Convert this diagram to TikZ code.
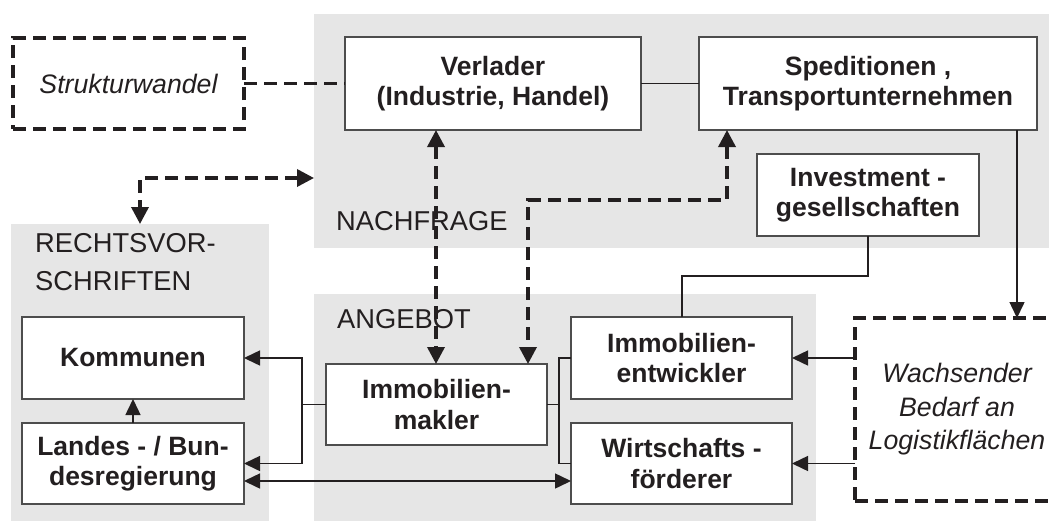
\documentclass[tikz,border=0pt]{standalone}
\usepackage{fontspec}
\setmainfont{Liberation Sans}
\usetikzlibrary{arrows.meta}
\definecolor{panelgray}{HTML}{E6E6E6}
\definecolor{ink}{HTML}{231F20}
\definecolor{rim}{HTML}{4D4D4D}

\begin{document}
\begin{tikzpicture}[x=1pt,y=-1pt,
  panel/.style={fill=panelgray, draw=none, inner sep=0pt, outer sep=0pt},
  entity/.style={draw=rim, line width=1.3pt, fill=white, text=ink, align=center,
    inner sep=0pt, outer sep=0pt, font=\bfseries\fontsize{26.5}{30.5}\selectfont},
  factor/.style={draw=ink, line width=3.5pt, dash pattern=on 13pt off 7pt,
    align=center, inner sep=0pt, outer sep=0pt, text=ink,
    font=\itshape\fontsize{26.7}{33.5}\selectfont},
  section/.style={text=ink, inner sep=0pt, align=left,
    font=\fontsize{27.3}{38}\selectfont},
  link/.style={draw=ink, line width=1.5pt},
  flowtip/.tip={Triangle[length=16pt,width=15pt]},
  flow/.style={link, -flowtip},
  twoflow/.style={link, flowtip-flowtip},
  dlink/.style={draw=ink, line width=3.5pt, dash pattern=on 13pt off 7pt},
  dtip/.tip={Triangle[length=17pt,width=17pt]},
  dtwoflow/.style={dlink, dtip-dtip}
]
\useasboundingbox (0,0) rectangle (1049,520);

% grey panels
\node[panel, minimum width=746, minimum height=234, anchor=north west] (nach) at (314,14) {};
\node[panel, minimum width=258, minimum height=306, anchor=north west] (rechts) at (11,224) {};
\node[panel, minimum width=502, minimum height=236, anchor=north west] (angeb) at (314,294) {};

% panel titles
\node[section, anchor=base west] (nachtitle) at (336,230) {NACHFRAGE};
\node[section, anchor=north west] (rechtstitle) at (35,233.5) {RECHTSVOR-\\SCHRIFTEN};
\node[section, anchor=base west] (angebtitle) at (337,328) {ANGEBOT};

% actors
\node[entity, minimum width=296, minimum height=93] (verl) at (493,83.5) {Verlader\\(Industrie, Handel)};
\node[entity, minimum width=338, minimum height=93] (sped) at (868,83.5) {Speditionen ,\\Transportunternehmen};
\node[entity, minimum width=222, minimum height=82] (inv) at (868,195) {Investment -\\gesellschaften};
\node[entity, minimum width=222, minimum height=82] (komm) at (133,358) {Kommunen};
\node[entity, minimum width=222, minimum height=81] (land) at (133,463.5) {Landes - / Bun-\\desregierung};
\node[entity, minimum width=221, minimum height=81] (makler) at (436.5,404.5) {Immobilien-\\makler};
\node[entity, minimum width=221, minimum height=82] (entw) at (681.5,358) {Immobilien-\\entwickler};
\node[entity, minimum width=221, minimum height=81] (foerd) at (681.5,463.5) {Wirtschafts -\\förderer};

% external factors
\node[factor, minimum width=231, minimum height=91] (struk) at (128.5,83.5) {Strukturwandel};
\node[factor, minimum width=204, minimum height=183] (wachs) at (957,409.5) {Wachsender\\Bedarf an\\Logistikflächen};

% bend points
\coordinate (legal) at (140,178);
\coordinate (sp1) at (727,200);
\coordinate (sp2) at (528,200);
\coordinate (iv1) at (682,276);
\coordinate (mk) at (436,0);

% connectors
\draw[dlink] (struk.east) -- (verl.west);
\draw[link] (verl.east) -- (sped.west);
\draw[dtwoflow] (nach.west |- legal) -- (legal) -- (rechts.north -| legal);
\draw[dtwoflow] (verl.south -| mk) -- (makler.north -| mk);
\draw[dtwoflow] (sped.south -| sp1) -- (sp1) -- (sp2) -- (makler.north -| sp2);
\draw[link] (inv.south) |- (iv1) -- (entw.north -| iv1);
\draw[flow] ([xshift=149pt]sped.south) -- ([xshift=149pt]sped.south |- wachs.north);
\draw[flow] (wachs.west |- entw.east) -- (entw.east);
\draw[flow] (wachs.west |- foerd.east) -- (foerd.east);
\draw[link] (makler.east) -- ++(12,0);
\draw[link] (entw.west) -- ++(-12,0) |- (foerd.west);
\draw[link] (makler.west) -- ++(-24,0);
\draw[twoflow] (komm.east) -- ++(58,0) |- (land.east);
\draw[twoflow] ([yshift=-17.5pt]land.east) -- ([yshift=-17.5pt]foerd.west);
\draw[flow] (land.north) -- (komm.south);
\end{tikzpicture}
\end{document}
